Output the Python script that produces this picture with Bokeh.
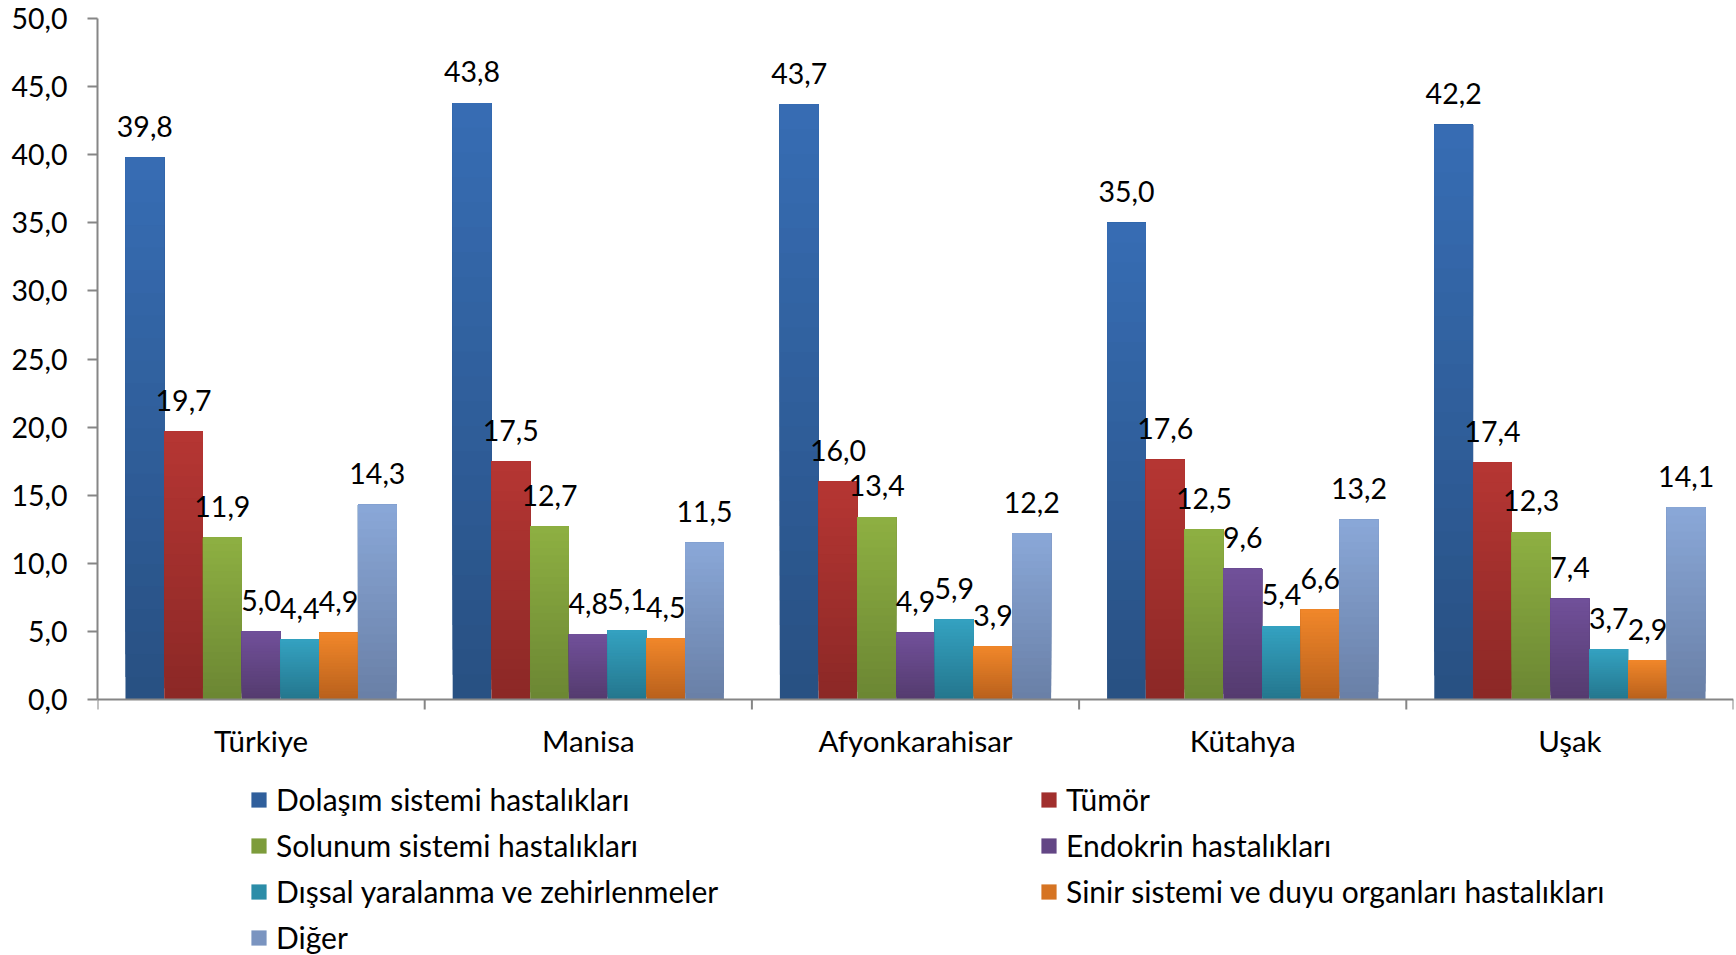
from bokeh.plotting import figure
from bokeh.models import FixedTicker, Legend, LegendItem, ColumnDataSource, Span, Range1d
from bokeh.core.properties import value
from bokeh.embed import file_html
from bokeh.resources import INLINE

categories = ["Türkiye", "Manisa", "Afyonkarahisar", "Kütahya", "Uşak"]
series = ["Dolaşım sistemi hastalıkları", "Tümör", "Solunum sistemi hastalıkları",
          "Endokrin hastalıkları", "Dışsal yaralanma ve zehirlenmeler",
          "Sinir sistemi ve duyu organları hastalıkları", "Diğer"]
dolasim = [39.8, 43.8, 43.7, 35.0, 42.2]
tumor = [19.7, 17.5, 16.0, 17.6, 17.4]
solunum = [11.9, 12.7, 13.4, 12.5, 12.3]
endokrin = [5.0, 4.8, 4.9, 9.6, 7.4]
dissal = [4.4, 5.1, 5.9, 5.4, 3.7]
sinir = [4.9, 4.5, 3.9, 6.6, 2.9]
diger = [14.3, 11.5, 12.2, 13.2, 14.1]
values = [dolasim, tumor, solunum, endokrin, dissal, sinir, diger]
y_ticks = [0, 5, 10, 15, 20, 25, 30, 35, 40, 45, 50]

top_colors = ["#376DB4", "#B63633", "#8EB042", "#71509A", "#34A2C1", "#F1872A", "#8AA8D8"]
bot_colors = ["#285082", "#8B2826", "#6B8633", "#543B6E", "#24768D", "#B8601C", "#697FA6"]

FONT = "Lato"
AXIS_COLOR = "#868686"

def hex2rgb(h):
    h = h.lstrip("#")
    return tuple(int(h[i:i + 2], 16) for i in (0, 2, 4))

def lerp(c1, c2, t):
    a, b = hex2rgb(c1), hex2rgb(c2)
    return "#%02x%02x%02x" % tuple(round(a[i] + (b[i] - a[i]) * t) for i in range(3))

# layout (pixels)
W, H = 1736, 955
LEFT, RIGHT, TOP = 97, 3, 18
ZERO_Y = 699                      # pixel row of value 0
YMAX = 50
px_per_unit = (ZERO_Y - TOP) / YMAX
ymin = -(H - ZERO_Y) / px_per_unit

p = figure(width=W, height=H, output_backend="svg", toolbar_location=None,
           x_range=Range1d(0, 5), y_range=Range1d(ymin, YMAX),
           min_border_left=LEFT, min_border_right=RIGHT, min_border_top=TOP, min_border_bottom=0)
p.outline_line_color = None
p.grid.grid_line_color = None
p.background_fill_color = "white"
p.border_fill_color = "white"
p.xaxis.visible = False

n = len(series)
group = 0.829
bw = group / n
N = 24
legend_renderers = []
for j in range(n):
    xs = [i + 0.5 + (j - (n - 1) / 2) * bw for i in range(len(categories))]
    vals = values[j]
    mid = None
    for k in range(N):
        col = lerp(bot_colors[j], top_colors[j], (k + 0.5) / N)
        r = p.vbar(x=xs, width=bw, bottom=[v * k / N for v in vals], top=vals,
                   fill_color=col, line_color=None)
        if k == N // 2:
            mid = r
    legend_renderers.append(mid)
    src = ColumnDataSource(dict(x=xs, y=vals, t=[("%.1f" % v).replace(".", ",") for v in vals]))
    p.text(x="x", y="y", text="t", source=src, text_align="center", text_baseline="alphabetic",
           y_offset=-31, text_font=value(FONT), text_font_size="28.5px", text_color="#000000")

# x axis line at zero, boundary ticks and category labels
p.add_layout(Span(location=0, dimension="width", line_color=AXIS_COLOR, line_width=2))
bounds = list(range(len(categories) + 1))
tick_len = 10 / px_per_unit
p.segment(x0=bounds, y0=[0] * len(bounds), x1=bounds, y1=[-tick_len] * len(bounds),
          line_color=AXIS_COLOR, line_width=2)
p.text(x=[i + 0.5 for i in range(len(categories))], y=[0] * len(categories), text=categories,
       text_align="center", text_baseline="middle", y_offset=41,
       text_font=value(FONT), text_font_size="29.5px", text_color="#000000")

# y axis
ya = p.yaxis[0]
ya.bounds = (0, YMAX)
ya.ticker = FixedTicker(ticks=y_ticks, minor_ticks=[])
ya.major_label_overrides = {t: ("%.1f" % t).replace(".", ",") for t in y_ticks}
ya.axis_line_color = AXIS_COLOR
ya.axis_line_width = 2
ya.major_tick_line_color = AXIS_COLOR
ya.major_tick_line_width = 2
ya.major_tick_in = 0
ya.major_tick_out = 10
ya.minor_tick_line_color = None
ya.major_label_standoff = 20
ya.major_label_text_font = FONT
ya.major_label_text_font_size = "28.5px"
ya.major_label_text_color = "#000000"

def make_legend(idx, loc):
    lg = Legend(items=[LegendItem(label=series[i], renderers=[legend_renderers[i]]) for i in idx],
                location=loc, orientation="vertical")
    lg.label_text_font = FONT
    lg.label_text_font_size = "30px"
    lg.label_text_color = "#000000"
    lg.label_height = 36
    lg.glyph_width = 19
    lg.glyph_height = 19
    lg.label_standoff = 8
    lg.spacing = 10
    lg.padding = 0
    lg.margin = 0
    lg.border_line_color = None
    lg.background_fill_alpha = 0
    return lg

# bottom-left corner of each legend, in px from the frame's bottom-left
p.add_layout(make_legend([0, 2, 4, 6], (249 - LEFT, 0)))
p.add_layout(make_legend([1, 3, 5], (1039 - LEFT, 46)))

open("out.html", "w").write(file_html(p, INLINE))
